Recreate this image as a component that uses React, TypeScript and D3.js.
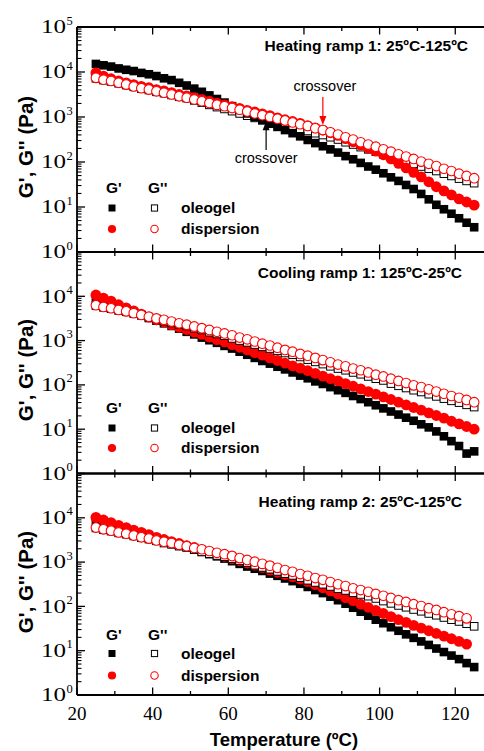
import React from "react";
import * as d3 from "d3";

// Measurement temperatures (ºC), one point every 2 ºC
const TEMPS = d3.range(25, 126, 2);

// ---- Heating ramp 1 (Pa) ----
const heat1OleogelGp = [15100, 14100, 13200, 12000, 11200, 10500, 9550, 8910, 8130, 7240, 6610, 5750, 5010, 4270, 3630, 3020, 2510, 2090, 1740, 1450, 1200, 1000, 851, 708, 603, 513, 437, 372, 309, 263, 224, 191, 162, 135, 115, 95.5, 79.4, 67.6, 56.2, 45.7, 38.0, 30.9, 25.1, 19.5, 14.8, 11.2, 8.91, 7.08, 5.62, 4.47, 3.55];
const heat1OleogelGpp = [7240, 6610, 6170, 5620, 5130, 4680, 4270, 3980, 3630, 3390, 3090, 2820, 2630, 2340, 2090, 1860, 1660, 1510, 1350, 1200, 1070, 955, 851, 776, 708, 646, 589, 537, 490, 437, 398, 355, 316, 275, 245, 214, 191, 170, 148, 132, 115, 102, 91.2, 79.4, 70.8, 63.1, 55.0, 49.0, 42.7, 38.0, 33.9];
const heat1DispGp = [9550, 8130, 7080, 6310, 5750, 5250, 4790, 4470, 4070, 3800, 3470, 3160, 2950, 2690, 2450, 2240, 2040, 1860, 1700, 1550, 1410, 1290, 1170, 1070, 955, 871, 794, 724, 646, 575, 513, 447, 389, 331, 282, 240, 204, 174, 145, 117, 93.3, 74.1, 58.9, 46.8, 36.3, 28.2, 22.9, 18.6, 15.1, 12.9, 11.0];
const heat1DispGpp = [7410, 6760, 6310, 5750, 5250, 4790, 4370, 4070, 3720, 3470, 3160, 2880, 2690, 2450, 2240, 2040, 1860, 1740, 1580, 1450, 1320, 1200, 1100, 1000, 912, 832, 759, 692, 631, 562, 513, 457, 407, 355, 316, 275, 245, 219, 191, 170, 148, 132, 117, 102, 91.2, 81.3, 70.8, 63.1, 55.0, 49.0, 43.7];

// ---- Cooling ramp 1 (Pa) ----
const cool1OleogelGp = [9120, 7940, 6760, 5890, 5010, 4370, 3800, 3240, 2820, 2450, 2140, 1860, 1580, 1380, 1170, 1020, 891, 759, 661, 562, 479, 407, 347, 302, 257, 224, 191, 162, 141, 120, 105, 89.1, 75.9, 66.1, 56.2, 47.9, 40.7, 34.7, 29.5, 25.1, 21.4, 18.2, 15.5, 12.9, 11.0, 8.91, 6.92, 5.37, 4.17, 2.82, 3.16];
const cool1OleogelGpp = [6170, 5620, 5250, 4790, 4470, 4070, 3720, 3390, 3090, 2750, 2510, 2290, 2140, 1910, 1740, 1550, 1410, 1290, 1120, 1000, 912, 813, 724, 661, 589, 525, 479, 427, 372, 331, 295, 263, 234, 214, 191, 174, 155, 138, 126, 107, 95.5, 85.1, 75.9, 69.2, 61.7, 55.0, 49.0, 43.7, 39.8, 35.5, 31.6];
const cool1DispGp = [10700, 9120, 7760, 6460, 5500, 4680, 3980, 3390, 2950, 2630, 2290, 2000, 1780, 1550, 1380, 1200, 1050, 933, 813, 708, 617, 537, 468, 407, 355, 309, 269, 240, 209, 182, 158, 138, 123, 107, 93.3, 81.3, 70.8, 61.7, 53.7, 46.8, 40.7, 35.5, 30.9, 26.9, 23.4, 20.4, 17.8, 15.1, 13.2, 11.5, 10.0];
const cool1DispGpp = [6310, 5750, 5370, 4900, 4570, 4170, 3800, 3470, 3160, 2950, 2690, 2450, 2290, 2090, 1910, 1740, 1580, 1450, 1320, 1170, 1070, 955, 851, 776, 692, 617, 562, 501, 457, 407, 363, 324, 288, 263, 234, 214, 191, 170, 155, 138, 123, 110, 97.7, 89.1, 79.4, 70.8, 63.1, 56.2, 51.3, 45.7, 40.7];

// ---- Heating ramp 2 (Pa) ----
const heat2OleogelGp = [9120, 8130, 7240, 6310, 5620, 5010, 4470, 3980, 3470, 3090, 2750, 2450, 2190, 1910, 1700, 1510, 1350, 1200, 1050, 912, 794, 708, 631, 550, 490, 427, 372, 324, 275, 234, 200, 166, 138, 115, 93.3, 75.9, 61.7, 50.1, 41.7, 33.9, 28.2, 23.4, 19.5, 16.2, 13.5, 11.2, 9.33, 7.76, 6.46, 5.25, 4.27];
const heat2OleogelGpp = [5890, 5370, 5010, 4570, 4270, 3890, 3550, 3310, 3020, 2690, 2510, 2290, 2140, 1910, 1700, 1550, 1410, 1320, 1200, 1070, 977, 851, 759, 692, 617, 550, 501, 447, 389, 347, 316, 282, 251, 229, 204, 186, 170, 151, 132, 117, 105, 95.5, 85.1, 77.6, 69.2, 63.1, 56.2, 50.1, 45.7, 40.7, 35.5];
const heat2DispGp = [10200, 8910, 7760, 6760, 6030, 5250, 4680, 4170, 3630, 3240, 2880, 2630, 2340, 2140, 1910, 1700, 1510, 1350, 1200, 1070, 955, 851, 759, 661, 589, 525, 468, 417, 363, 309, 263, 224, 191, 158, 135, 112, 95.5, 81.3, 69.2, 58.9, 50.1, 43.7, 37.2, 32.4, 28.2, 24.5, 21.4, 18.6, 16.2, 14.1];
const heat2DispGpp = [6030, 5500, 5130, 4680, 4370, 3980, 3630, 3390, 3090, 2880, 2690, 2450, 2290, 2090, 1950, 1780, 1620, 1510, 1380, 1230, 1120, 1020, 912, 832, 741, 661, 603, 537, 490, 437, 398, 355, 316, 288, 257, 234, 214, 191, 174, 155, 138, 126, 112, 102, 91.2, 83.2, 74.1, 66.1, 60.3, 53.7];

const PANEL_TITLES = [
  "Heating ramp 1: 25ºC-125ºC",
  "Cooling ramp 1: 125ºC-25ºC",
  "Heating ramp 2: 25ºC-125ºC",
];
const X_MAJOR = [20, 40, 60, 80, 100, 120];
const X_MINOR = [30, 50, 70, 90, 110];
const Y_DECADES = [0, 1, 2, 3, 4, 5];
const LEGEND_HEADERS = ["G'", "G''"];
const LEGEND_ROWS = ["oleogel", "dispersion"];
const Y_TITLE = "G', G'' (Pa)";
const X_TITLE = "Temperature (ºC)";

// Crossover annotations in the first panel: [temperature, modulus]
const CROSSOVER_OLEOGEL = [70, 800];
const CROSSOVER_DISPERSION = [85, 513];

const W = 484;
const H = 751;
const RED = "#ff0000";
const SANS = "'Liberation Sans', Arial, sans-serif";
const SERIF = "'Liberation Serif', 'Times New Roman', serif";

type Kind = "fsq" | "osq" | "fci" | "oci";

const panels = [
  {
    top: 27, bottom: 252, titleX: 468, titleY: 51, yTitleCy: 147,
    legend: [193, 208, 229], yLabels: Y_DECADES,
    series: [
      { kind: "osq" as Kind, values: heat1OleogelGpp },
      { kind: "fsq" as Kind, values: heat1OleogelGp },
      { kind: "fci" as Kind, values: heat1DispGp },
      { kind: "oci" as Kind, values: heat1DispGpp },
    ],
  },
  {
    top: 252, bottom: 473.5, titleX: 462, titleY: 278, yTitleCy: 370,
    legend: [413, 428, 448], yLabels: Y_DECADES.slice(0, 5),
    series: [
      { kind: "fsq" as Kind, values: cool1OleogelGp },
      { kind: "fci" as Kind, values: cool1DispGp },
      { kind: "osq" as Kind, values: cool1OleogelGpp },
      { kind: "oci" as Kind, values: cool1DispGpp },
    ],
  },
  {
    top: 473.5, bottom: 695, titleX: 462, titleY: 507, yTitleCy: 582,
    legend: [640, 653.5, 675.5], yLabels: Y_DECADES.slice(0, 5),
    series: [
      { kind: "fsq" as Kind, values: heat2OleogelGp },
      { kind: "fci" as Kind, values: heat2DispGp },
      { kind: "osq" as Kind, values: heat2OleogelGpp },
      { kind: "oci" as Kind, values: heat2DispGpp },
    ],
  },
];

function Marker({ kind, cx, cy, s }: { kind: Kind; cx: number; cy: number; s: number }) {
  const h = s / 2;
  if (kind === "fsq") return <rect x={cx - h} y={cy - h} width={s} height={s} fill="#000" />;
  if (kind === "osq")
    return <rect x={cx - h + 0.5} y={cy - h + 0.5} width={s - 1} height={s - 1} fill="#fff" stroke="#000" strokeWidth={1} />;
  if (kind === "fci") return <circle cx={cx} cy={cy} r={h + 0.6} fill={RED} />;
  return <circle cx={cx} cy={cy} r={h} fill="#fff" stroke={RED} strokeWidth={1.1} />;
}

export default function App() {
  const x = d3.scaleLinear().domain([20, 127.6]).range([77, 484]);
  const axisW = 1.8;

  return (
    <svg
      width={W}
      height={H}
      viewBox={`0 0 ${W} ${H}`}
      style={{ position: "absolute", left: 0, top: 0, background: "#fff" }}
    >
      <rect width={W} height={H} fill="#fff" />
      {panels.map((p, pi) => {
        const y = d3.scaleLog().domain([1, 1e5]).range([p.bottom, p.top]);
        const minorY: number[] = [];
        for (let k = 0; k < 5; k++) for (let m = 2; m <= 9; m++) minorY.push(m * Math.pow(10, k));
        return (
          <g key={pi}>
            {/* data */}
            {p.series.map((s, si) => (
              <g key={si}>
                {s.values.map((v, i) => (
                  <Marker key={i} kind={s.kind} cx={x(TEMPS[i])} cy={y(v)} s={s.kind === "fsq" || s.kind === "osq" ? 8.6 : 9.6} />
                ))}
              </g>
            ))}

            {/* frame */}
            <line x1={x(20)} x2={W} y1={p.top} y2={p.top} stroke="#000" strokeWidth={axisW} />
            <line x1={x(20)} x2={W} y1={p.bottom} y2={p.bottom} stroke="#000" strokeWidth={axisW} />
            <line x1={x(20)} x2={x(20)} y1={p.top} y2={p.bottom} stroke="#000" strokeWidth={axisW} />

            {/* x ticks, inward on top and bottom edges */}
            {X_MAJOR.concat(X_MINOR).map((t) => {
              const len = X_MAJOR.includes(t) ? 7.5 : 4;
              return (
                <g key={t}>
                  <line x1={x(t)} x2={x(t)} y1={p.bottom} y2={p.bottom - len} stroke="#000" strokeWidth={1.3} />
                  <line x1={x(t)} x2={x(t)} y1={p.top} y2={p.top + len} stroke="#000" strokeWidth={1.3} />
                </g>
              );
            })}

            {/* y ticks */}
            {Y_DECADES.map((d) => (
              <line key={"M" + d} x1={x(20)} x2={x(20) + 8} y1={y(Math.pow(10, d))} y2={y(Math.pow(10, d))} stroke="#000" strokeWidth={1.3} />
            ))}
            {minorY.map((v) => (
              <line key={"m" + v} x1={x(20)} x2={x(20) + 4.5} y1={y(v)} y2={y(v)} stroke="#000" strokeWidth={1.1} />
            ))}

            {/* y tick labels */}
            {p.yLabels.map((d) => {
              const yy = y(Math.pow(10, d));
              return (
                <g key={"L" + d} fontFamily={SERIF} fill="#000">
                  <text x={41} y={yy + 6.3} fontSize={18.5} textLength={25} lengthAdjust="spacingAndGlyphs">10</text>
                  <text x={66.5} y={yy - 2.5} fontSize={12.5}>{d}</text>
                </g>
              );
            })}

            {/* y axis title */}
            <text
              transform={`translate(32.5, ${p.yTitleCy}) rotate(-90)`}
              textAnchor="middle"
              fontFamily={SANS}
              fontWeight="bold"
              fontSize={20.5}
            >
              {Y_TITLE}
            </text>

            {/* panel title */}
            <text x={p.titleX} y={p.titleY} textAnchor="end" fontFamily={SANS} fontWeight="bold" fontSize={15.5}>
              {PANEL_TITLES[pi]}
            </text>

            {/* legend */}
            <g fontFamily={SANS} fontWeight="bold" fontSize={15.5}>
              <text x={106} y={p.legend[0]}>{LEGEND_HEADERS[0]}</text>
              <text x={148} y={p.legend[0]}>{LEGEND_HEADERS[1]}</text>
              <Marker kind="fsq" cx={112} cy={p.legend[1]} s={7} />
              <Marker kind="osq" cx={154.5} cy={p.legend[1]} s={7.2} />
              <text x={181} y={p.legend[1] + 5}>{LEGEND_ROWS[0]}</text>
              <Marker kind="fci" cx={112} cy={p.legend[2]} s={7} />
              <Marker kind="oci" cx={154.5} cy={p.legend[2]} s={7.4} />
              <text x={181} y={p.legend[2] + 5}>{LEGEND_ROWS[1]}</text>
            </g>

            {pi === 0 && (
              <g fontFamily={SANS} fontSize={14.5}>
                {(() => {
                  const bx = x(CROSSOVER_OLEOGEL[0]);
                  const by = y(CROSSOVER_OLEOGEL[1]);
                  const rx = x(CROSSOVER_DISPERSION[0]);
                  const ry = y(CROSSOVER_DISPERSION[1]) - 5;
                  return (
                    <>
                      <line x1={bx} x2={bx} y1={150} y2={by + 6} stroke="#000" strokeWidth={1.2} />
                      <path d={`M${bx},${by} L${bx - 3.5},${by + 9} L${bx + 3.5},${by + 9} Z`} fill="#000" />
                      <text x={bx} y={163} textAnchor="middle">crossover</text>
                      <line x1={rx} x2={rx} y1={97} y2={ry - 6} stroke={RED} strokeWidth={1.2} />
                      <path d={`M${rx},${ry} L${rx - 3.5},${ry - 9} L${rx + 3.5},${ry - 9} Z`} fill={RED} />
                      <text x={rx + 2} y={91} textAnchor="middle">crossover</text>
                    </>
                  );
                })()}
              </g>
            )}

            {/* x tick labels on the lowest panel */}
            {pi === panels.length - 1 &&
              X_MAJOR.map((t) => (
                <text key={"x" + t} x={x(t)} y={720} textAnchor="middle" fontFamily={SERIF} fontSize={19}>
                  {t}
                </text>
              ))}
          </g>
        );
      })}
      <text x={284} y={746} textAnchor="middle" fontFamily={SANS} fontWeight="bold" fontSize={18.5}>
        {X_TITLE}
      </text>
    </svg>
  );
}
